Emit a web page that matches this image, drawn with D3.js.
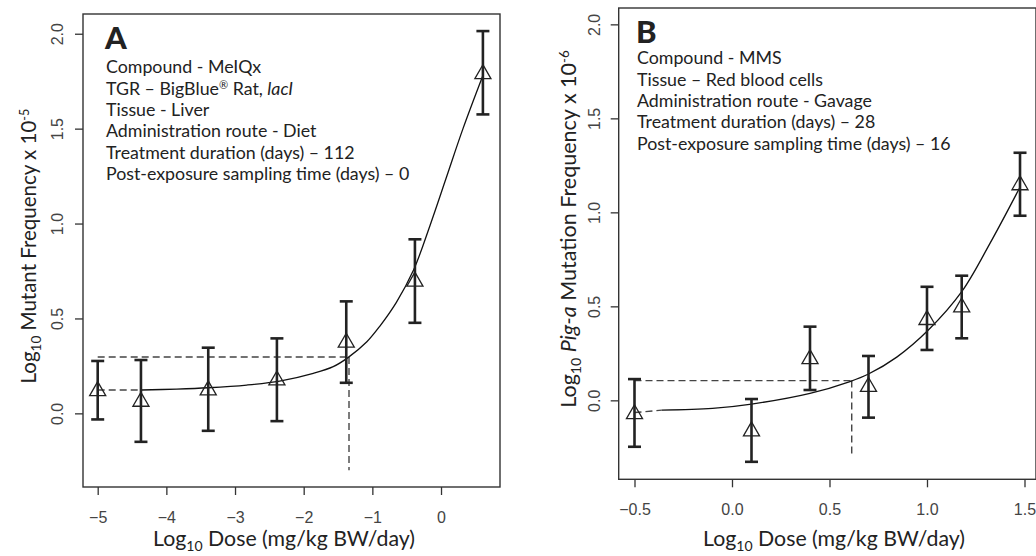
<!DOCTYPE html>
<html>
<head>
<meta charset="utf-8">
<script src="https://cdn.jsdelivr.net/npm/d3@7"></script>
<style>
  body { margin: 0; background: #fff; }
  svg { display: block; }
</style>
</head>
<body>
<svg id="chart" width="1036" height="556"></svg>
<script>
// panel A - MeIQx, lacI
var doseA = [-5, -4.37, -3.39, -2.39, -1.38, -0.38, 0.61];
var mfA = [0.118, 0.062, 0.122, 0.174, 0.373, 0.695, 1.788];
var lowA = [-0.032, -0.15, -0.092, -0.041, 0.161, 0.477, 1.575];
var highA = [0.276, 0.281, 0.346, 0.395, 0.59, 0.917, 2.014];
var fitDoseA = [-4.36, -3.85, -3.39, -2.83, -2.35, -1.86, -1.57, -1.35, -1.08, -0.89, -0.65, -0.40, -0.16, 0.08, 0.32, 0.61];
var fitA = [0.123, 0.128, 0.135, 0.149, 0.17, 0.211, 0.246, 0.295, 0.377, 0.46, 0.585, 0.755, 0.99, 1.245, 1.5, 1.78];
var bmdA = -1.34, bmrA = 0.297, baseA = 0.123;
var xTicksA = [-5, -4, -3, -2, -1, 0];
var yTicksA = [0, 0.5, 1, 1.5, 2];
var notesA = [
  [{t: "Compound - MeIQx"}],
  [{t: "TGR – BigBlue"}, {t: "®", sup: true}, {t: " Rat, "}, {t: "lacI", it: true}],
  [{t: "Tissue - Liver"}],
  [{t: "Administration route - Diet"}],
  [{t: "Treatment duration (days) – 112"}],
  [{t: "Post-exposure sampling time (days) – 0"}]
];

// panel B - MMS, Pig-a
var doseB = [-0.5, 0.10, 0.40, 0.70, 1.0, 1.178, 1.477];
var mfB = [-0.073, -0.164, 0.22, 0.072, 0.428, 0.495, 1.145];
var lowB = [-0.247, -0.327, 0.055, -0.092, 0.268, 0.33, 0.982];
var highB = [0.113, 0.007, 0.392, 0.236, 0.604, 0.663, 1.317];
var fitDoseB = [-0.36, -0.1, 0.10, 0.40, 0.605, 0.70, 0.845, 1.007, 1.178, 1.323, 1.48];
var fitB = [-0.052, -0.043, -0.02, 0.037, 0.10, 0.14, 0.23, 0.374, 0.578, 0.835, 1.14];
var bmdB = 0.614, bmrB = 0.105, baseB = -0.065;
var xTicksB = [-0.5, 0, 0.5, 1, 1.5];
var yTicksB = [0, 0.5, 1, 1.5, 2];
var notesB = [
  [{t: "Compound - MMS"}],
  [{t: "Tissue – Red blood cells"}],
  [{t: "Administration route - Gavage"}],
  [{t: "Treatment duration (days) – 28"}],
  [{t: "Post-exposure sampling time (days) – 16"}]
];

var svg = d3.select("#chart");
var LABEL_FONT = "Lato, 'Open Sans', sans-serif";
var TICK_FONT = "'Liberation Sans', Arial, sans-serif";

function richText(sel, segs, size){
  var shift = 0;
  segs.forEach(function(s){
    var ts = sel.append("tspan").text(s.t);
    var target = 0;
    if (s.sub){ ts.attr("font-size", size * 0.66); target = size * 0.24; }
    if (s.sup){ ts.attr("font-size", size * 0.62); target = -size * 0.34; }
    if (s.it) ts.attr("font-style", "italic");
    if (target - shift != 0) ts.attr("dy", target - shift);
    shift = target;
  });
}

function drawPanel(p){
  var x = d3.scaleLinear().domain(p.xDomain).range([p.left, p.right]);
  var y = d3.scaleLinear().domain(p.yDomain).range([p.bottom, p.top]);
  var g = svg.append("g");

  // axes
  var xAxis = g.append("g")
    .attr("transform", "translate(0," + p.bottom + ")")
    .call(d3.axisBottom(x).tickValues(p.xTicks).tickSize(8)
      .tickFormat(p.xFormat));
  xAxis.select(".domain").remove();
  xAxis.selectAll("line").attr("stroke", "#333").attr("stroke-width", 1.3);
  xAxis.selectAll("text")
    .attr("y", 36).attr("dy", 0)
    .attr("font-family", TICK_FONT).attr("font-size", 16).attr("fill", "#444");

  var yAxis = g.append("g")
    .attr("transform", "translate(" + p.left + ",0)")
    .call(d3.axisLeft(y).tickValues(p.yTicks).tickSize(8).tickFormat(d3.format(".1f")));
  yAxis.select(".domain").remove();
  yAxis.selectAll("line").attr("stroke", "#333").attr("stroke-width", 1.3);
  yAxis.selectAll("text")
    .attr("x", 0).attr("dy", 0).attr("text-anchor", "middle")
    .attr("transform", "translate(" + p.yLabelOff + ",0) rotate(-90)")
    .attr("font-family", TICK_FONT).attr("font-size", 16).attr("fill", "#444");

  // box
  g.append("rect")
    .attr("x", p.left).attr("y", p.top)
    .attr("width", p.right - p.left).attr("height", p.bottom - p.top)
    .attr("fill", "none").attr("stroke", "#333").attr("stroke-width", 1.4);

  // dashed reference lines
  var dash = g.append("g").attr("stroke", "#444").attr("stroke-width", 1.4)
    .attr("stroke-dasharray", "7,4").attr("fill", "none");
  dash.append("line")
    .attr("x1", x(p.dose[0])).attr("x2", x(p.bmd))
    .attr("y1", y(p.bmr)).attr("y2", y(p.bmr));
  dash.append("line")
    .attr("x1", x(p.bmd)).attr("x2", x(p.bmd))
    .attr("y1", y(p.bmr)).attr("y2", y(-0.3));
  dash.append("line")
    .attr("x1", x(p.dose[0])).attr("x2", x(p.fitDose[0]))
    .attr("y1", y(p.base)).attr("y2", y(p.fit[0]));

  // fitted curve
  var line = d3.line()
    .x(function(d, i){ return x(p.fitDose[i]); })
    .y(function(d){ return y(d); })
    .curve(d3.curveCatmullRom.alpha(0.5));
  g.append("path").datum(p.fit)
    .attr("d", line).attr("fill", "none")
    .attr("stroke", "#111").attr("stroke-width", 1.3);

  // error bars
  var eb = g.append("g").attr("stroke", "#222").attr("stroke-width", 2.6);
  p.dose.forEach(function(d, i){
    var cx = x(d);
    eb.append("line").attr("x1", cx).attr("x2", cx)
      .attr("y1", y(p.low[i])).attr("y2", y(p.high[i]));
    eb.append("line").attr("x1", cx - 6.5).attr("x2", cx + 6.5)
      .attr("y1", y(p.low[i])).attr("y2", y(p.low[i]));
    eb.append("line").attr("x1", cx - 6.5).attr("x2", cx + 6.5)
      .attr("y1", y(p.high[i])).attr("y2", y(p.high[i]));
  });

  // triangles
  g.selectAll("path.pt").data(p.mf).enter().append("path")
    .attr("class", "pt")
    .attr("d", d3.symbol(d3.symbolTriangle, 112))
    .attr("transform", function(d, i){ return "translate(" + x(p.dose[i]) + "," + y(d) + ")"; })
    .attr("fill", "none").attr("stroke", "#222").attr("stroke-width", 1.3);

  // panel letter + notes
  g.append("text")
    .attr("x", p.noteX - 1).attr("y", p.letterY)
    .attr("font-family", LABEL_FONT).attr("font-weight", "900")
    .attr("font-size", 31).attr("fill", "#222")
    .text(p.letter);
  p.notes.forEach(function(segs, i){
    var t = g.append("text")
      .attr("x", p.noteX).attr("y", p.noteY + i * 21.3)
      .attr("font-family", LABEL_FONT).attr("font-size", 17.8).attr("fill", "#222");
    richText(t, segs, 17.8);
  });

  // axis titles
  var xt = g.append("text")
    .attr("x", p.xTitleX).attr("y", 546).attr("text-anchor", "middle")
    .attr("font-family", LABEL_FONT).attr("font-size", 21.3).attr("fill", "#222");
  richText(xt, [{t: "Log"}, {t: "10", sub: true}, {t: " Dose (mg/kg BW/day)"}], 21.3);

  var yt = g.append("text")
    .attr("transform", "translate(" + p.yTitleX + "," + p.yTitleY + ") rotate(-90)")
    .attr("text-anchor", "middle")
    .attr("font-family", LABEL_FONT).attr("font-size", p.yTitleSize).attr("fill", "#222");
  richText(yt, p.yTitle, p.yTitleSize);
}

drawPanel({
  left: 83, right: 500, top: 14, bottom: 487,
  xDomain: [-5.214, 0.859], yDomain: [-0.388, 2.104],
  xTicks: xTicksA, yTicks: yTicksA, xFormat: d3.format("d"),
  yLabelOff: -20,
  dose: doseA, mf: mfA, low: lowA, high: highA,
  fitDose: fitDoseA, fit: fitA, bmd: bmdA, bmr: bmrA, base: baseA,
  letter: "A", noteX: 106, letterY: 49, noteY: 73.3, notes: notesA,
  xTitleX: 284, yTitleX: 36, yTitleY: 246, yTitleSize: 20.5,
  yTitle: [{t: "Log"}, {t: "10", sub: true}, {t: " Mutant Frequency x 10"}, {t: "-5", sup: true}]
});

drawPanel({
  left: 618.7, right: 1036, top: 8, bottom: 479.3,
  xDomain: [-0.581, 1.559], yDomain: [-0.42, 2.087],
  xTicks: xTicksB, yTicks: yTicksB, xFormat: d3.format(".1f"),
  yLabelOff: -19,
  dose: doseB, mf: mfB, low: lowB, high: highB,
  fitDose: fitDoseB, fit: fitB, bmd: bmdB, bmr: bmrB, base: baseB,
  letter: "B", noteX: 637, letterY: 42.7, noteY: 64.3, notes: notesB,
  xTitleX: 834, yTitleX: 576, yTitleY: 229, yTitleSize: 21.5,
  yTitle: [{t: "Log"}, {t: "10", sub: true}, {t: " "}, {t: "Pig-a", it: true}, {t: " Mutation Frequency x 10"}, {t: "-6", sup: true}]
});
</script>
</body>
</html>
